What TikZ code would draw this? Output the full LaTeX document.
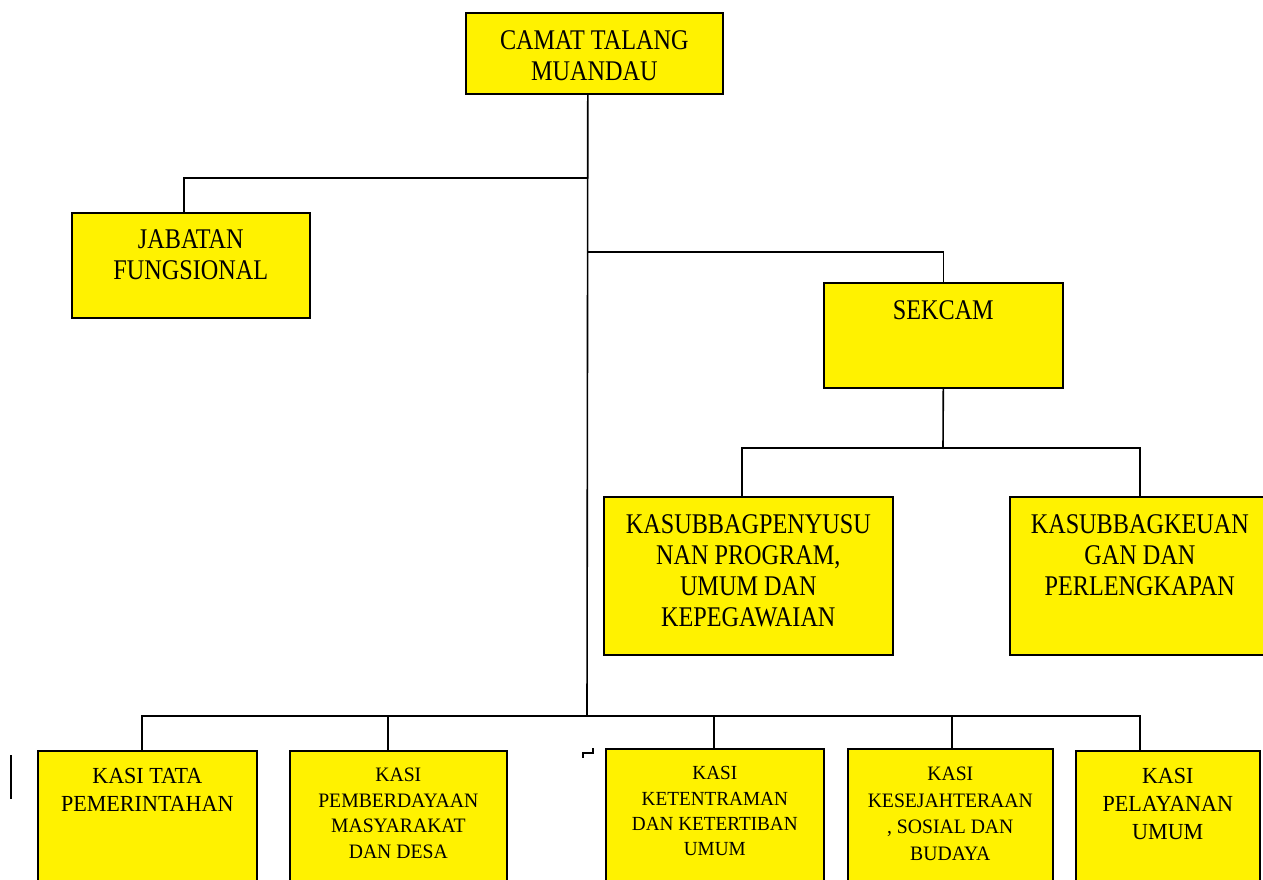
\documentclass[tikz,border=0pt]{standalone}
\usepackage{fontspec}
\setmainfont[FakeStretch=0.85]{Liberation Serif}
\newfontfamily\kasifont[FakeStretch=0.96]{Liberation Serif}
\tikzset{
  box/.style={draw, fill=yellow, line width=1.6pt, inner sep=0pt, align=center, anchor=north west},
  big/.style={font=\fontsize{28.5}{31}\selectfont}
}
\begin{document}
\begin{tikzpicture}[x=1pt,y=-1pt,line width=1.6pt]
\path[use as bounding box,clip] (0,0) rectangle (1263,879);
\node[box,big,minimum width=257,minimum height=81,text height=68pt,text depth=13pt] (camat) at (465,12) {CAMAT TALANG\\MUANDAU};
\node[box,big,minimum width=238,minimum height=105,text height=67pt,text depth=38pt] (jabatan) at (71,212) {JABATAN\\FUNGSIONAL};
\node[box,big,minimum width=239,minimum height=105,text height=37pt,text depth=68pt] (sekcam) at (823,282) {SEKCAM};
\node[box,big,minimum width=289,minimum height=158,text height=130pt,text depth=28pt] (penyusun) at (603,496) {KASUBBAGPENYUSU\\NAN PROGRAM,\\UMUM DAN\\KEPEGAWAIAN};
\node[box,big,minimum width=260,minimum height=158,text height=99pt,text depth=59pt] (keuangan) at (1009,496) {KASUBBAGKEUAN\\GAN DAN\\PERLENGKAPAN};
% baris kasi
\node[box,font=\kasifont\fontsize{23}{28}\selectfont,minimum width=219,minimum height=140,text height=61pt,text depth=79pt] (tata) at (37,750) {KASI TATA\\PEMERINTAHAN};
\node[box,font=\kasifont\fontsize{20.5}{25.5}\selectfont,minimum width=217,minimum height=140,text height=107.5pt,text depth=32.5pt] (desa) at (289,750) {KASI\\PEMBERDAYAAN\\MASYARAKAT\\DAN DESA};
\node[box,font=\kasifont\fontsize{20}{25.3}\selectfont,minimum width=218,minimum height=140,text height=107pt,text depth=33pt] (ketentraman) at (605,748) {KASI\\KETENTRAMAN\\DAN KETERTIBAN\\UMUM};
\node[box,font=\kasifont\fontsize{20.5}{26.5}\selectfont,minimum width=205,minimum height=140,text height=111.5pt,text depth=28.5pt] (kesejahteraan) at (847,748) {KASI\\KESEJAHTERAAN\\, SOSIAL DAN\\BUDAYA};
\node[box,font=\kasifont\fontsize{23}{28}\selectfont,minimum width=184,minimum height=140,text height=89pt,text depth=51pt] (pelayanan) at (1075,750) {KASI\\PELAYANAN\\UMUM};
\coordinate (j1) at (587,178);
\coordinate (j2) at (587,252);
\coordinate (j3) at (587,716);
\coordinate (s1) at (943,448);
\draw ([xshift=-6.5pt]camat.south) -- (j3);
\draw (j1) -| ([xshift=-7pt]jabatan.north);
\draw (j2) -| (sekcam.north);
\draw (sekcam.south) -- (s1);
\draw ([xshift=-6.5pt]penyusun.north) |- (s1) -| (keuangan.north);
\foreach \n/\dx in {tata/-5.5,desa/-10.5,ketentraman/-1,kesejahteraan/1.5,pelayanan/-28}
  \draw ([xshift=\dx pt]\n.north) |- (j3);
% coretan kecil
\draw (11,755) -- (11,799);
\draw[line width=1.2pt] (593,748) -- (593,753) -- (583,753) -- (583,758);
\end{tikzpicture}
\end{document}
